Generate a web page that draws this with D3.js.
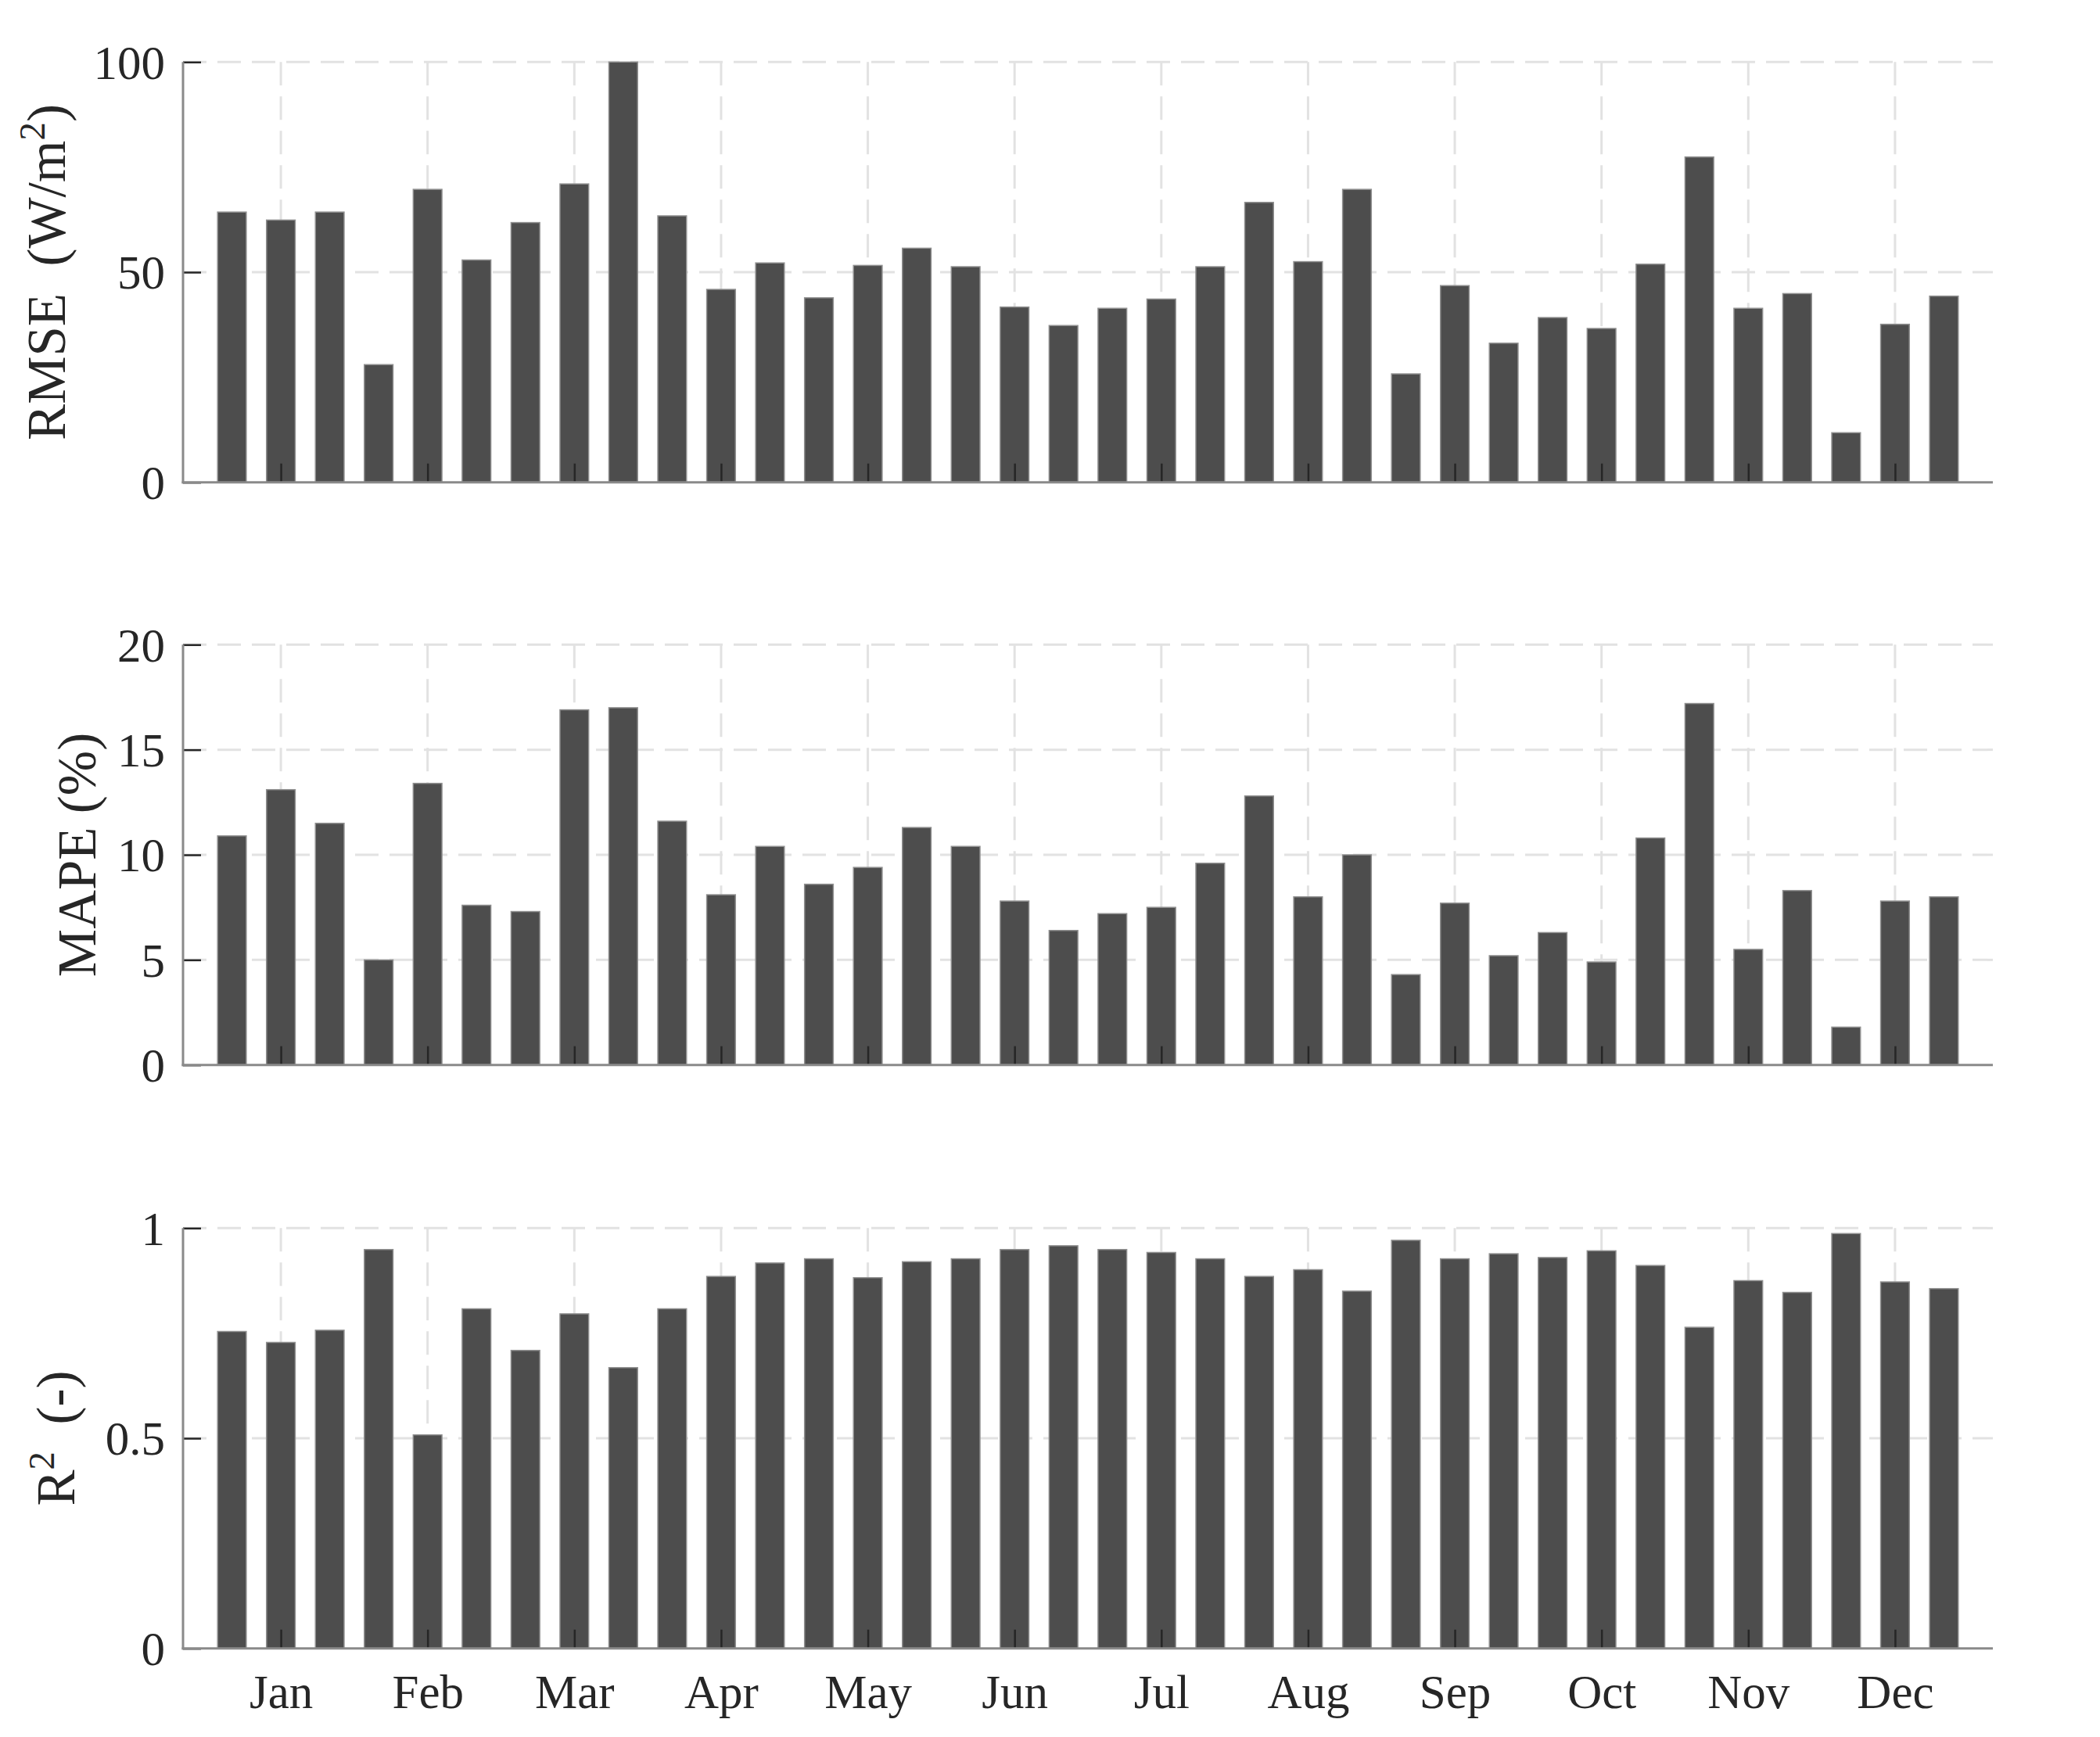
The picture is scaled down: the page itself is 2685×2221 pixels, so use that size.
<!DOCTYPE html>
<html>
<head>
<meta charset="utf-8">
<script src="https://cdn.jsdelivr.net/npm/d3@7"></script>
<style>
  html, body { margin: 0; padding: 0; background: #fff; }
  svg { display: block; }
  text { font-family: "Liberation Serif", "Times New Roman", serif; fill: #262626; }
</style>
</head>
<body>
<svg id="chart" width="2685" height="2221"></svg>
<script>
// ---------------- DATA ----------------
const months = ["Jan","Feb","Mar","Apr","May","Jun","Jul","Aug","Sep","Oct","Nov","Dec"];
const barsPerMonth = 3;

const rmse = [64.3, 62.4, 64.3, 28.0, 69.7, 52.9, 61.8, 71.0, 100.0,
              63.4, 45.9, 52.2, 43.9, 51.6, 55.7, 51.3, 41.7, 37.3,
              41.4, 43.6, 51.3, 66.6, 52.5, 69.7, 25.8, 46.8, 33.1,
              39.2, 36.6, 51.9, 77.4, 41.4, 44.9, 11.8, 37.6, 44.3];

const mape = [10.9, 13.1, 11.5, 5.0, 13.4, 7.6, 7.3, 16.9, 17.0,
              11.6, 8.1, 10.4, 8.6, 9.4, 11.3, 10.4, 7.8, 6.4,
              7.2, 7.5, 9.6, 12.8, 8.0, 10.0, 4.3, 7.7, 5.2,
              6.3, 4.9, 10.8, 17.2, 5.5, 8.3, 1.8, 7.8, 8.0];

const r2 = [0.754, 0.728, 0.757, 0.949, 0.508, 0.808, 0.709, 0.796, 0.668,
            0.808, 0.885, 0.917, 0.927, 0.882, 0.920, 0.927, 0.949, 0.958,
            0.949, 0.942, 0.927, 0.885, 0.901, 0.850, 0.971, 0.927, 0.939,
            0.930, 0.946, 0.911, 0.764, 0.875, 0.847, 0.987, 0.872, 0.856];

const rmseTicks = [0, 50, 100];
const mapeTicks = [0, 5, 10, 15, 20];
const r2Ticks = [0, 0.5, 1];
const rmseTickLabels = ["0", "50", "100"];
const mapeTickLabels = ["0", "5", "10", "15", "20"];
const r2TickLabels = ["0", "0.5", "1"];

// ---------------- LAYOUT ----------------
const svg = d3.select("#chart");
svg.append("rect").attr("width", 2685).attr("height", 2221).attr("fill", "#fff");

const nBars = rmse.length;
const x = d3.scaleLinear().domain([-1, nBars]).range([234, 2548]);
const barW = 36.7;
const monthIdx = months.map((m, i) => i * barsPerMonth + 1);

const panels = [
  { values: rmse, domain: [0, 100], ticks: rmseTicks, labels: rmseTickLabels,
    top: 79.3, bottom: 616.7, title: "rmse", titleX: 83 },
  { values: mape, domain: [0, 20], ticks: mapeTicks, labels: mapeTickLabels,
    top: 824.3, bottom: 1361.7, title: "mape", titleX: 122 },
  { values: r2, domain: [0, 1], ticks: r2Ticks, labels: r2TickLabels,
    top: 1570.3, bottom: 2107.7, title: "r2", titleX: 95 }
];

const FS = 61;
const TFS = 69;
const gridColor = "#e2e2e2";
const axisColor = "#8a8a8a";
const tickColor = "#262626";

panels.forEach((p, pi) => {
  const y = d3.scaleLinear().domain(p.domain).range([p.bottom, p.top]);
  const g = svg.append("g");

  // grid - horizontal
  g.append("g").selectAll("line")
    .data(p.ticks.filter(t => t !== 0))
    .join("line")
    .attr("x1", x.range()[0]).attr("x2", x.range()[1])
    .attr("y1", d => y(d)).attr("y2", d => y(d))
    .attr("stroke", gridColor).attr("stroke-width", 3)
    .attr("stroke-dasharray", "30,14");

  // grid - vertical
  g.append("g").selectAll("line")
    .data(monthIdx)
    .join("line")
    .attr("x1", d => x(d)).attr("x2", d => x(d))
    .attr("y1", p.top).attr("y2", p.bottom)
    .attr("stroke", gridColor).attr("stroke-width", 3)
    .attr("stroke-dasharray", "30,14");

  // bars
  g.append("g").selectAll("rect")
    .data(p.values)
    .join("rect")
    .attr("x", (d, i) => x(i) - barW / 2)
    .attr("width", barW)
    .attr("y", d => y(d))
    .attr("height", d => y(0) - y(d))
    .attr("fill", "#4d4d4d")
    .attr("stroke", "#8f8f8f")
    .attr("stroke-width", 1.5);

  // y axis via d3
  const yAxis = d3.axisLeft(y)
    .tickValues(p.ticks)
    .tickFormat((d, i) => p.labels[i])
    .tickSizeInner(-23)
    .tickSizeOuter(0)
    .tickPadding(23);
  const ya = g.append("g").attr("transform", `translate(${x.range()[0]},0)`).call(yAxis);
  ya.select(".domain").remove();
  ya.selectAll(".tick line").attr("stroke", tickColor).attr("stroke-width", 2.5);
  ya.selectAll(".tick text")
    .attr("font-size", FS)
    .attr("font-family", "Liberation Serif")
    .attr("fill", "#262626")
    .attr("dy", "0.34em");

  // x axis ticks via d3
  const xAxis = d3.axisBottom(x)
    .tickValues(monthIdx)
    .tickFormat((d, i) => pi === 2 ? months[i] : "")
    .tickSizeInner(-24)
    .tickSizeOuter(0)
    .tickPadding(33);
  const xa = g.append("g").attr("transform", `translate(0,${p.bottom})`).call(xAxis);
  xa.select(".domain").remove();
  xa.selectAll(".tick line").attr("stroke", tickColor).attr("stroke-width", 2.5);
  xa.selectAll(".tick text")
    .attr("font-size", FS)
    .attr("font-family", "Liberation Serif")
    .attr("fill", "#262626");

  // axis lines
  g.append("line")
    .attr("x1", x.range()[0]).attr("x2", x.range()[0])
    .attr("y1", p.top).attr("y2", p.bottom + 1.5)
    .attr("stroke", axisColor).attr("stroke-width", 3);
  g.append("line")
    .attr("x1", x.range()[0] - 1.5).attr("x2", x.range()[1])
    .attr("y1", p.bottom).attr("y2", p.bottom)
    .attr("stroke", axisColor).attr("stroke-width", 3);

  // y title
  const cy = (p.top + p.bottom) / 2;
  const t = g.append("text")
    .attr("transform", `translate(${p.titleX},${cy}) rotate(-90)`)
    .attr("text-anchor", "middle")
    .attr("font-size", TFS)
    .style("white-space", "pre");
  if (p.title === "rmse") {
    t.append("tspan").text("RMSE  (W/m");
    t.append("tspan").attr("font-size", TFS * 0.68).attr("dy", -TFS * 0.38).text("2");
    t.append("tspan").attr("dy", TFS * 0.38).text(")");
  } else if (p.title === "mape") {
    t.append("tspan").text("MAPE (%)");
  } else {
    t.append("tspan").text("R");
    t.append("tspan").attr("font-size", TFS * 0.68).attr("dy", -TFS * 0.38).text("2");
    t.append("tspan").attr("dy", TFS * 0.38).text("  (-)");
  }
});
</script>
</body>
</html>
